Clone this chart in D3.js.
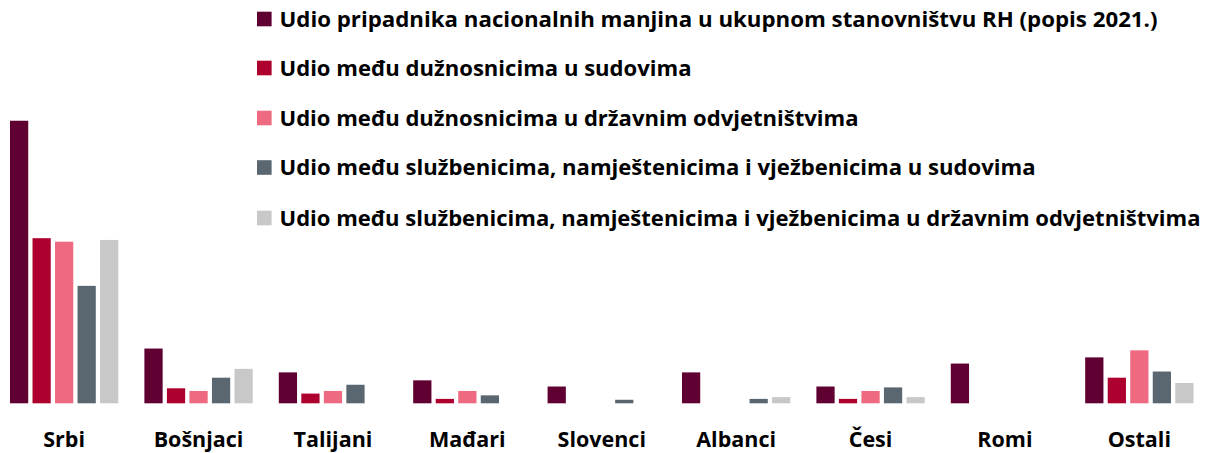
<!DOCTYPE html>
<html>
<head>
<meta charset="utf-8">
<script src="https://cdn.jsdelivr.net/npm/d3@7"></script>
<style>
  html, body { margin: 0; padding: 0; background: #ffffff; }
  svg { display: block; }
  text { font-family: "Open Sans", "Noto Sans", sans-serif; font-weight: 700; fill: #000; }
</style>
</head>
<body>
<svg id="chart" width="1210" height="453"></svg>
<script>
// ---- data ----
const categories = ["Srbi", "Bošnjaci", "Talijani", "Mađari", "Slovenci", "Albanci", "Česi", "Romi", "Ostali"];
const seriesNames = [
  "Udio pripadnika nacionalnih manjina u ukupnom stanovništvu RH (popis 2021.)",
  "Udio među dužnosnicima u sudovima",
  "Udio među dužnosnicima u državnim odvjetništvima",
  "Udio među službenicima, namještenicima i vježbenicima u sudovima",
  "Udio među službenicima, namještenicima i vježbenicima u državnim odvjetništvima"
];
const popis      = [3.20, 0.62, 0.35, 0.26, 0.19, 0.35, 0.19, 0.45, 0.52];
const sudDuz     = [1.87, 0.17, 0.11, 0.05, 0.00, 0.00, 0.05, 0.00, 0.29];
const doDuz      = [1.83, 0.14, 0.14, 0.14, 0.00, 0.00, 0.14, 0.00, 0.60];
const sudSluz    = [1.33, 0.29, 0.21, 0.09, 0.04, 0.05, 0.18, 0.00, 0.36];
const doSluz     = [1.85, 0.39, 0.00, 0.00, 0.00, 0.07, 0.07, 0.00, 0.23];
const seriesValues = [popis, sudDuz, doDuz, sudSluz, doSluz];

// ---- styles / layout ----
const colors = ["#600032", "#ad002e", "#ee6a80", "#5b6770", "#c8c8c8"];
const legendTextWidths = [878, 412, 579, 756, 921];

const svg = d3.select("#chart");
const baseY = 403.3;
const pxPerUnit = 88.3;

const x0 = d3.scaleBand()
  .domain(categories)
  .range([-3.05, 1206.55])
  .paddingInner(0.194)
  .paddingOuter(0.097);

const x1 = d3.scaleBand()
  .domain(d3.range(seriesNames.length))
  .range([0, x0.bandwidth()])
  .paddingInner(0.19)
  .paddingOuter(0);

const yMax = 3.5;
const y = d3.scaleLinear().domain([0, yMax]).range([baseY, baseY - yMax * pxPerUnit]);

// bars
const groups = svg.append("g").selectAll("g")
  .data(categories)
  .join("g")
  .attr("transform", d => `translate(${x0(d)},0)`);

groups.selectAll("rect")
  .data((c, ci) => seriesValues.map((vals, si) => ({ si, v: vals[ci] })))
  .join("rect")
  .filter(d => d.v > 0)
  .attr("x", d => x1(d.si))
  .attr("width", x1.bandwidth())
  .attr("y", d => y(d.v))
  .attr("height", d => y(0) - y(d.v))
  .attr("fill", d => colors[d.si]);

// category axis (no line, no ticks)
const xAxis = d3.axisBottom(x0).tickSize(0).tickPadding(0);
const axG = svg.append("g")
  .attr("transform", `translate(0,${baseY})`)
  .call(xAxis);
axG.select(".domain").remove();
axG.selectAll("text")
  .attr("dy", null)
  .attr("y", 44)
  .style("font-family", '"Open Sans", "Noto Sans", sans-serif')
  .style("font-weight", 700)
  .style("font-size", "21.5px")
  .style("fill", "#000");

// legend
const legendX = 257;
const legendRowY = [19, 68, 118, 167.5, 218];
const legend = svg.append("g");
seriesNames.forEach((name, i) => {
  const cy = legendRowY[i];
  legend.append("rect")
    .attr("x", legendX)
    .attr("y", cy - 7.3)
    .attr("width", 14.6)
    .attr("height", 14.6)
    .attr("fill", colors[i]);
  legend.append("text")
    .attr("x", legendX + 22.5)
    .attr("y", cy + 7.8)
    .attr("textLength", legendTextWidths[i])
    .attr("lengthAdjust", "spacingAndGlyphs")
    .style("font-size", "21.5px")
    .text(name);
});
</script>
</body>
</html>
